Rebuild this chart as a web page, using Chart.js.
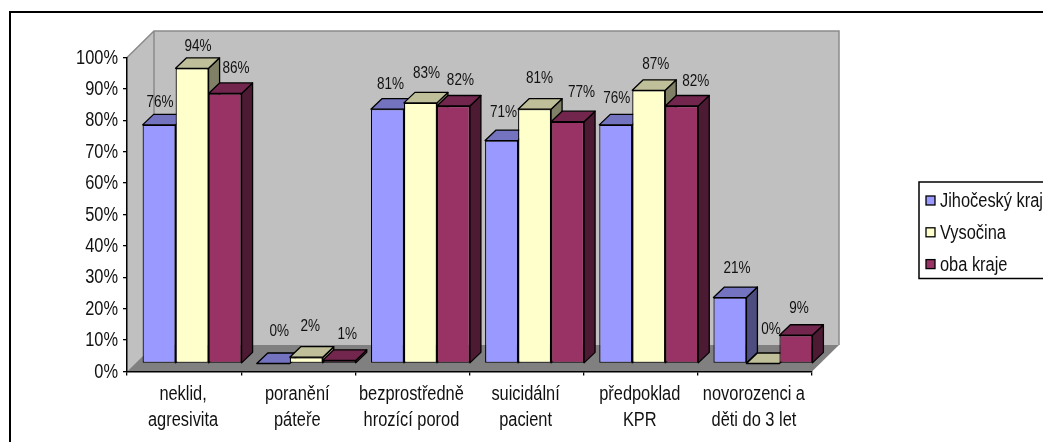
<!DOCTYPE html>
<html lang="cs">
<head>
<meta charset="utf-8">
<title>Kraje</title>
<script src="https://cdn.jsdelivr.net/npm/chart.js@4/dist/chart.umd.min.js"></script>
<style>
  html, body { margin: 0; padding: 0; background: #fff; overflow: hidden; }
  canvas { display: block; }
</style>
</head>
<body>
<canvas id="chart" width="1043" height="442"></canvas>
<script>
const categories = [
  ['neklid,', 'agresivita'],
  ['poranění', 'páteře'],
  ['bezprostředně', 'hrozící porod'],
  ['suicidální', 'pacient'],
  ['předpoklad', 'KPR'],
  ['novorozenci a', 'děti do 3 let']
];
const jihocesky = [76, 0, 81, 71, 76, 21];
const vysocina = [94, 2, 83, 81, 87, 0];
const obaKraje = [86, 1, 82, 77, 82, 9];
const yTicks = [0, 10, 20, 30, 40, 50, 60, 70, 80, 90, 100];

// Hand placement of the value labels relative to each bar's top, one row per series.
const labelShiftX = [
  [1, 6, 3, 2, 1, 7],
  [6, 4, 6, 5, 7, 8],
  [11, 8, 7, 14, 14, 3]
];
const labelShiftY = [
  [-22, -32, -25, -28, -26, -29],
  [-22, -31, -29, -31, -26, -34],
  [-25, -26, -26, -29, -25, -27]
];

const FONT = '"Liberation Sans", Arial, sans-serif';
const TEXT = '#111';
const NARROW = 0.82;                  // horizontal squeeze applied to all text
const FRONT = ['#9999FF', '#FFFFCC', '#993366'];
const TOP = ['#7373BF', '#BFBF99', '#73264D'];
const SIDE = ['#4D4D80', '#808066', '#4D1A33'];

const ROOM_DX = 27, ROOM_DY = 26.5;   // depth of the floor and side wall
const ROW_DX = 8, ROW_DY = 8;         // bars stand this far back from the front edge
const BAR_DX = 11, BAR_DY = 10.5;     // depth of a single bar

function narrowText(ctx, text, x, y, align) {
  ctx.save();
  ctx.translate(x, y);
  ctx.scale(NARROW, 1);
  ctx.textAlign = align;
  ctx.textBaseline = 'middle';
  ctx.fillText(text, 0, 0);
  ctx.restore();
}

// Back wall, side wall and floor, placed from the scale ends.
const roomPlugin = {
  id: 'room',
  beforeDraw(chart) {
    const { ctx } = chart;
    const xs = chart.scales.x, ys = chart.scales.y;
    const l = xs.left, r = xs.right;
    const b = ys.getPixelForValue(0), t = ys.getPixelForValue(100);
    ctx.save();
    ctx.fillStyle = '#C0C0C0';
    ctx.fillRect(l + ROOM_DX, t - ROOM_DY, r - l, b - t);
    ctx.beginPath();
    ctx.moveTo(l, t);
    ctx.lineTo(l + ROOM_DX, t - ROOM_DY);
    ctx.lineTo(l + ROOM_DX, b - ROOM_DY);
    ctx.lineTo(l, b);
    ctx.closePath();
    ctx.fill();
    ctx.fillStyle = '#808080';
    ctx.beginPath();
    ctx.moveTo(l, b);
    ctx.lineTo(l + ROOM_DX, b - ROOM_DY);
    ctx.lineTo(r + ROOM_DX, b - ROOM_DY);
    ctx.lineTo(r, b);
    ctx.closePath();
    ctx.fill();
    ctx.strokeStyle = '#8A8A8A';
    ctx.lineWidth = 1.5;
    ctx.beginPath();
    ctx.moveTo(l, t);
    ctx.lineTo(l + ROOM_DX, t - ROOM_DY);
    ctx.lineTo(r + ROOM_DX, t - ROOM_DY);
    ctx.lineTo(r + ROOM_DX, b - ROOM_DY);
    ctx.moveTo(l + ROOM_DX, t - ROOM_DY);
    ctx.lineTo(l + ROOM_DX, b - ROOM_DY);
    ctx.stroke();
    ctx.restore();
  }
};

// Top and side faces of the bars of one series.
function drawBarDepth(ctx, meta, s) {
  ctx.strokeStyle = '#000';
  ctx.lineWidth = 1.3;
  ctx.lineJoin = 'round';
  meta.data.forEach(bar => {
    const x0 = bar.x - bar.width / 2, x1 = bar.x + bar.width / 2;
    const top = bar.y, base = bar.base;
    if (base - top > 0.5) {
      ctx.fillStyle = SIDE[s];
      ctx.beginPath();
      ctx.moveTo(x1, top);
      ctx.lineTo(x1 + BAR_DX, top - BAR_DY);
      ctx.lineTo(x1 + BAR_DX, base - BAR_DY);
      ctx.lineTo(x1, base);
      ctx.closePath();
      ctx.fill();
      ctx.stroke();
    }
    ctx.fillStyle = TOP[s];
    ctx.beginPath();
    ctx.moveTo(x0, top);
    ctx.lineTo(x0 + BAR_DX, top - BAR_DY);
    ctx.lineTo(x1 + BAR_DX, top - BAR_DY);
    ctx.lineTo(x1, top);
    ctx.closePath();
    ctx.fill();
    ctx.stroke();
  });
}

// Series are painted left to right so each bar's top overlaps its left neighbour's side.
const barsPlugin = {
  id: 'bars3d',
  beforeDatasetsDraw(chart) {
    const { ctx } = chart;
    ctx.save();
    ctx.translate(ROW_DX, -ROW_DY);
    chart.data.datasets.forEach((ds, s) => {
      const meta = chart.getDatasetMeta(s);
      drawBarDepth(ctx, meta, s);
      meta.controller.draw();
    });
    ctx.restore();
  },
  beforeDatasetDraw() {
    return false;
  }
};

// Percentage labels above the bars.
const valueLabelPlugin = {
  id: 'valueLabels',
  afterDatasetsDraw(chart) {
    const { ctx } = chart;
    ctx.save();
    ctx.font = '16.5px ' + FONT;
    ctx.fillStyle = TEXT;
    chart.data.datasets.forEach((ds, s) => {
      chart.getDatasetMeta(s).data.forEach((bar, i) => {
        narrowText(ctx, ds.data[i] + '%',
          bar.x + ROW_DX + labelShiftX[s][i],
          bar.y - ROW_DY + labelShiftY[s][i],
          'center');
      });
    });
    ctx.restore();
  }
};

// Axis tick labels, taken from the scales' own ticks.
const axisLabelPlugin = {
  id: 'axisLabels',
  afterDraw(chart) {
    const { ctx } = chart;
    const xs = chart.scales.x, ys = chart.scales.y;
    ctx.save();
    ctx.font = '20px ' + FONT;
    ctx.fillStyle = TEXT;
    ys.ticks.forEach((tick, i) => {
      narrowText(ctx, tick.label, ys.right - 9, ys.getPixelForTick(i) + 0.5, 'right');
    });
    xs.ticks.forEach((tick, i) => {
      const cx = xs.getPixelForTick(i) - 1;
      tick.label.forEach((line, n) => {
        narrowText(ctx, line, cx, xs.top + 23 + n * 26, 'center');
      });
    });
    ctx.restore();
  }
};

// Chart frame and the series key, which runs off the right edge of the frame.
const framePlugin = {
  id: 'frame',
  afterDraw(chart) {
    const { ctx } = chart;
    ctx.save();
    ctx.strokeStyle = '#000';
    ctx.lineWidth = 2;
    ctx.beginPath();
    ctx.moveTo(10, 442);
    ctx.lineTo(10, 12);
    ctx.lineTo(1043, 12);
    ctx.stroke();

    ctx.lineWidth = 1.5;
    ctx.strokeRect(919, 182, 140, 96.5);
    ctx.font = '20px ' + FONT;
    chart.data.datasets.forEach((ds, s) => {
      const cy = 200.5 + s * 31.8;
      ctx.fillStyle = FRONT[s];
      ctx.fillRect(926, cy - 4.5, 9, 9);
      ctx.strokeStyle = '#000';
      ctx.lineWidth = 1.3;
      ctx.strokeRect(926, cy - 4.5, 9, 9);
      ctx.fillStyle = TEXT;
      narrowText(ctx, ds.label, 940, cy + 1, 'left');
    });
    ctx.restore();
  }
};

const makeSeries = (label, data, s) => ({
  label,
  data,
  backgroundColor: FRONT[s],
  borderColor: '#000',
  borderWidth: 1.2,
  borderSkipped: false,
  clip: false,
  categoryPercentage: 0.867,
  barPercentage: 1
});

new Chart(document.getElementById('chart'), {
  type: 'bar',
  data: {
    labels: categories,
    datasets: [
      makeSeries('Jihočeský kraj', jihocesky, 0),
      makeSeries('Vysočina', vysocina, 1),
      makeSeries('oba kraje', obaKraje, 2)
    ]
  },
  plugins: [roomPlugin, barsPlugin, valueLabelPlugin, axisLabelPlugin, framePlugin],
  options: {
    responsive: false,
    animation: false,
    layout: {
      autoPadding: false,
      padding: { left: 60, right: 231, top: 57.5, bottom: 9.5 }
    },
    plugins: {
      legend: { display: false },
      tooltip: { enabled: false },
      title: { display: false }
    },
    scales: {
      x: {
        afterFit(scale) { scale.height = 61; },
        border: { color: '#000', width: 1.5 },
        grid: { drawOnChartArea: false, color: '#000', tickLength: 4, lineWidth: 1.3 },
        ticks: { display: false, autoSkip: false, maxRotation: 0 }
      },
      y: {
        min: 0,
        max: 100,
        afterFit(scale) { scale.width = 67; },
        afterBuildTicks(scale) { scale.ticks = yTicks.map(value => ({ value })); },
        border: { color: '#000', width: 1.5 },
        grid: { drawOnChartArea: false, color: '#000', tickLength: 4, lineWidth: 1.3 },
        ticks: { display: false, callback: v => v + '%' }
      }
    }
  }
});
</script>
</body>
</html>
